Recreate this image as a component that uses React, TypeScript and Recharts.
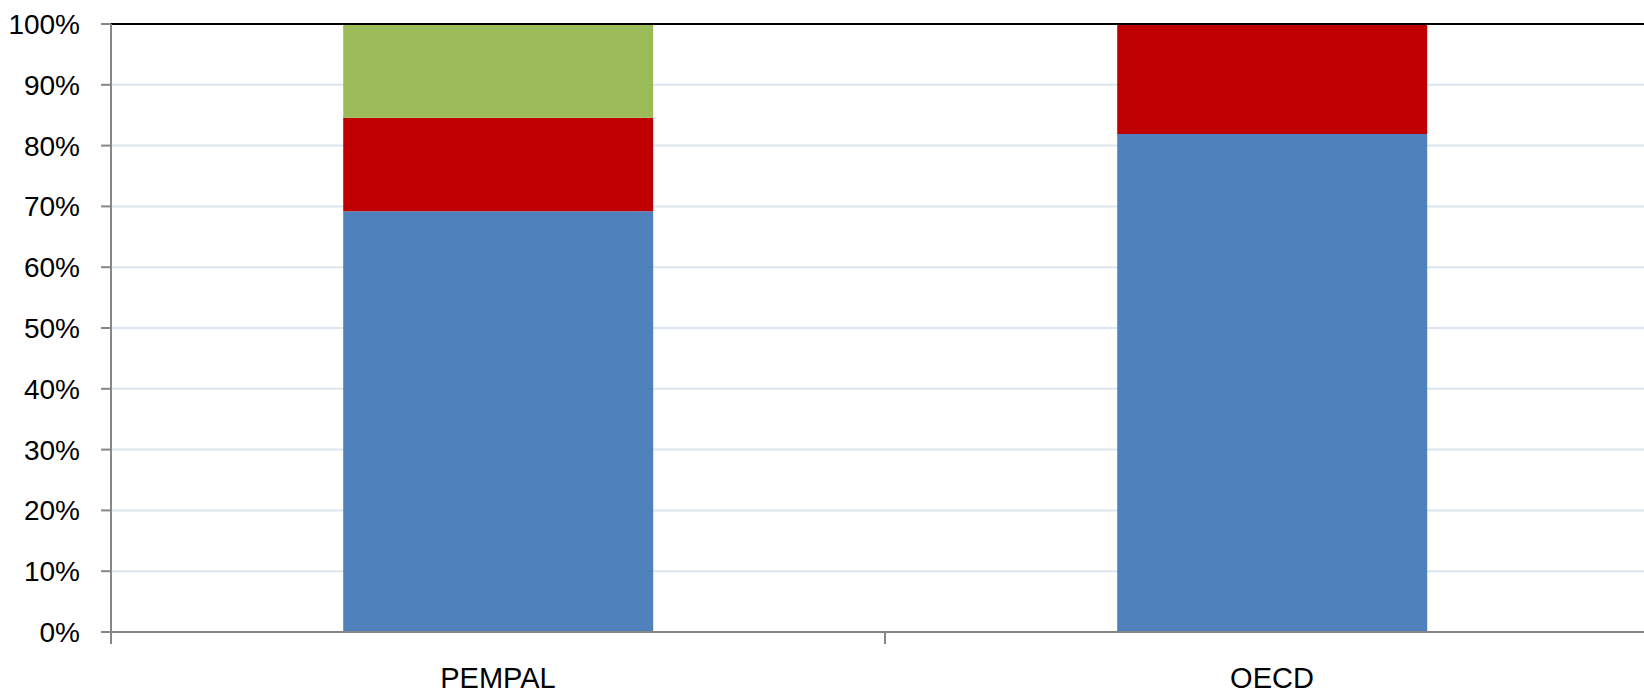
import React from "react";
import { Bar, BarChart, CartesianGrid, ReferenceLine, XAxis, YAxis } from "recharts";

const categories = ["PEMPAL", "OECD"];
const blueValues = [69.2, 81.9];
const redValues = [15.4, 18.1];
const greenValues = [15.4, 0];
const yTicks = [0, 10, 20, 30, 40, 50, 60, 70, 80, 90, 100];

const data = categories.map((name, i) => ({
  name,
  blue: blueValues[i],
  red: redValues[i],
  green: greenValues[i],
}));

const AXIS_GRAY = "#868686";
const FONT = "'Liberation Sans', Arial, sans-serif";

function CategoryTick(props: any) {
  const { x, y, payload } = props;
  const half = payload && payload.offset ? payload.offset : 387;
  return (
    <g>
      <line x1={x - half} y1={y} x2={x - half} y2={y + 12} stroke={AXIS_GRAY} strokeWidth={2} />
      <text x={x} y={y + 56} textAnchor="middle" fill="#000" fontSize={29} fontFamily={FONT}>
        {payload.value}
      </text>
    </g>
  );
}

export default function App() {
  return (
    <div
      style={{
        position: "absolute",
        left: 0,
        top: 0,
        width: 1644,
        height: 695,
        overflow: "hidden",
        background: "#fff",
      }}
    >
      <BarChart
        width={1680}
        height={695}
        data={data}
        margin={{ top: 24, right: 21, bottom: 0, left: 0 }}
        barCategoryGap="30%"
      >
        <CartesianGrid vertical={false} stroke="#DCE6F2" strokeWidth={2} />
        <XAxis
          dataKey="name"
          height={63}
          tickLine={false}
          tickSize={0}
          tickMargin={0}
          axisLine={{ stroke: AXIS_GRAY, strokeWidth: 2 }}
          tick={<CategoryTick />}
          interval={0}
        />
        <YAxis
          width={111}
          domain={[0, 100]}
          ticks={yTicks}
          interval={0}
          tickFormatter={(v: number) => `${v}%`}
          axisLine={{ stroke: AXIS_GRAY, strokeWidth: 2 }}
          tickLine={{ stroke: AXIS_GRAY, strokeWidth: 2 }}
          tickSize={10}
          tickMargin={21}
          tick={{ fontSize: 28, fill: "#000", fontFamily: FONT }}
        />
        <Bar dataKey="blue" stackId="a" fill="#4F81BD" isAnimationActive={false} />
        <Bar dataKey="red" stackId="a" fill="#C00000" isAnimationActive={false} />
        <Bar dataKey="green" stackId="a" fill="#9BBB59" isAnimationActive={false} />
        <ReferenceLine y={100} stroke="#000" strokeWidth={2} />
      </BarChart>
    </div>
  );
}
